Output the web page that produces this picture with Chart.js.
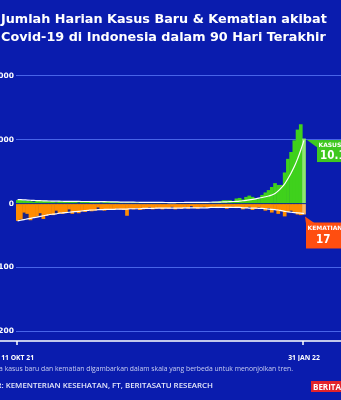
<!DOCTYPE html>
<html>
<head>
<meta charset="utf-8">
<script src="https://cdn.jsdelivr.net/npm/chart.js@4.4.0/dist/chart.umd.min.js"></script>
<style>
  html, body { margin: 0; padding: 0; background: #0a1cae; overflow: hidden; }
  #wrap { position: relative; width: 341px; height: 400px; }
  #chart { position: absolute; left: 0; top: 0; }
  .title { position: absolute; left: 1px; top: 10px; color: #fff; font: 700 12.8px 'DejaVu Sans', sans-serif; line-height: 18px; white-space: nowrap; }
  .note { position: absolute; right: 48px; top: 364px; color: #c9cff0; font: 400 6.8px 'Open Sans', sans-serif; white-space: nowrap; }
  .source { position: absolute; right: 128px; top: 380px; color: #e6e9fa; font: 600 7.9px 'Open Sans', sans-serif; white-space: nowrap; }
  .logo { position: absolute; left: 311px; top: 381px; width: 40px; height: 11px; background: #e3232b; color: #fff; font: 700 8px 'Open Sans', sans-serif; line-height: 11px; padding-left: 2px; }
</style>
</head>
<body>
<div id="wrap">
  <canvas id="chart" width="341" height="400"></canvas>
  <div class="title">Jumlah Harian Kasus Baru &amp; Kematian akibat<br>Covid-19 di Indonesia dalam 90 Hari Terakhir</div>
  <div class="note">Data kasus baru dan kematian digambarkan dalam skala yang berbeda untuk menonjolkan tren.</div>
  <div class="source">SUMBER: KEMENTERIAN KESEHATAN, FT, BERITASATU RESEARCH</div>
  <div class="logo">BERITASATU</div>
</div>
<script>
// daily data, 3 Nov 2021 - 31 Jan 2022
var cases = [
    573, 594, 502, 436, 382, 301, 415, 480, 440, 400, 385, 350, 220, 420, 400, 360, 370, 337, 249, 167,
    400, 415, 389, 400, 385, 258, 176, 300,
    357, 311, 281, 253, 237, 187, 230, 190, 241, 214, 247, 181, 135, 190, 219, 232, 173, 163, 136, 103,
    175, 224, 254, 184, 179, 92, 144, 212, 268, 173, 274,
    265, 174, 265, 299, 404, 533, 533, 529, 414, 802, 892, 646, 1054, 1256, 1054, 855, 772, 1362, 1745, 2116,
    2604, 3205, 2925, 2928, 4878, 7010, 8077, 9905, 11588, 12422, 10185
];
var casesAvg = [
    640, 620, 590, 560, 530, 500, 480, 460, 440, 420, 410, 400, 390, 380, 370, 360, 355, 350, 345, 340,
    335, 330, 330, 325, 320, 315, 310, 300,
    290, 280, 270, 260, 250, 240, 230, 225, 220, 215, 210, 205, 200, 195, 190, 190, 185, 180, 175, 170,
    170, 170, 175, 175, 180, 180, 185, 190, 195, 200, 210,
    210, 215, 225, 235, 250, 265, 285, 305, 330, 360, 400, 450, 510, 580, 660, 750, 850, 960, 1080, 1200,
    1350, 1600, 2000, 2500, 3100, 3900, 4800, 5800, 7000, 8400, 9900
];
var deaths = [
    27, 25, 14, 16, 26, 22, 20, 15, 24, 19, 17, 18, 11, 15, 16, 14, 9, 16, 13, 15,
    12, 13, 10, 12, 11, 6, 10, 11, 9, 10, 10, 8, 9, 10, 19, 8, 9, 7, 10, 9,
    8, 6, 9, 8, 7, 9, 7, 8, 5, 9, 7, 8, 6, 8, 4, 7, 8, 6, 5, 7,
    6, 5, 7, 6, 5, 8, 6, 5, 7, 6, 9, 7, 5, 10, 8, 6, 8, 11, 7, 14,
    9, 16, 12, 20, 13, 11, 13, 17, 18, 17
];
var deathsAvg = [
    27, 26, 25, 24, 23, 22, 21, 20, 19, 18, 17, 16.5, 16, 15, 14.5,
    14, 13.5, 13, 12.5, 12, 11.5, 11, 10.5, 10, 10, 9.5, 9.5, 9, 9, 9,
    9, 8.5, 8.5, 8.5, 8.5, 8, 8, 8, 8, 7.5, 7.5, 7.5, 7.5, 7, 7,
    7, 7, 7, 7, 7, 7, 7, 6.5, 6.5, 6.5, 6.5, 6.5, 6.5, 6.5, 6.5,
    6, 6, 6, 6, 6, 6, 6, 6, 6, 6, 6.5, 6.5, 7, 7, 7,
    7.5, 7.5, 8, 8.5, 9, 9.5, 10, 11, 12, 13, 13.5, 14, 14.5, 15, 15.5
];
var tickAt = [0, 89];
var tickLabels = ['11 OKT 21', '31 JAN 22'];
var yTicks = [-20000, -10000, 0, 10000, 20000];
var DEATH_SCALE = 100; // deaths drawn x100 below the zero line
var last = cases.length - 1;

function pts(arr, k) {
    return arr.map(function (v, i) { return { x: i, y: v * k }; });
}
function fmt(n) {
    return String(n).replace(/\B(?=(\d{3})+(?!\d))/g, '.');
}
// big numbers in the callouts are set a bit condensed
function narrowText(ctx, txt, x, y) {
    ctx.save();
    ctx.translate(x, y);
    ctx.scale(0.8, 1);
    ctx.fillText(txt, 0, 0);
    ctx.restore();
}

var extras = {
    id: 'extras',
    afterDatasetsDraw: function (chart) {
        var ctx = chart.ctx;
        var area = chart.chartArea;
        var xs = chart.scales.x;
        var cb = chart.getDatasetMeta(1).data[last];
        var db = chart.getDatasetMeta(2).data[last];
        ctx.save();
        // axis line runs to the left edge, plus the two tick marks
        ctx.strokeStyle = '#fff';
        ctx.lineWidth = 1.5;
        ctx.beginPath();
        ctx.moveTo(0, area.bottom);
        ctx.lineTo(area.right, area.bottom);
        tickAt.forEach(function (t) {
            var px = Math.round(xs.getPixelForValue(t)) - 1;
            ctx.moveTo(px, area.bottom);
            ctx.lineTo(px, area.bottom + 4);
        });
        ctx.stroke();

        // KASUS label
        var bx = cb.x + 13, by = cb.y + 1.5;
        ctx.fillStyle = '#3fc81f';
        ctx.beginPath();
        ctx.moveTo(cb.x + 3, by);
        ctx.lineTo(bx + 1, by);
        ctx.lineTo(bx + 1, by + 8);
        ctx.closePath();
        ctx.fill();
        ctx.fillRect(bx, by, 60, 22);
        ctx.fillStyle = '#fff';
        ctx.textBaseline = 'alphabetic';
        ctx.font = 'bold 6px "DejaVu Sans"';
        ctx.fillText('KASUS', bx + 1.5, by + 7);
        ctx.font = 'bold 13px "DejaVu Sans"';
        narrowText(ctx, fmt(cases[last]), bx + 3, by + 19);

        // KEMATIAN label
        var kx = db.x + 2, ky = db.y + 8;
        ctx.fillStyle = '#ff4e10';
        ctx.beginPath();
        ctx.moveTo(db.x + 1, db.y + 2);
        ctx.lineTo(kx + 9, ky + 1);
        ctx.lineTo(kx, ky + 1);
        ctx.closePath();
        ctx.fill();
        ctx.fillRect(kx, ky, 60, 26);
        ctx.fillStyle = '#fff';
        ctx.font = 'bold 6px "DejaVu Sans"';
        ctx.fillText('KEMATIAN', kx + 1.5, ky + 8);
        ctx.font = 'bold 13px "DejaVu Sans"';
        narrowText(ctx, String(deaths[last]), kx + 10, ky + 21);
        ctx.restore();
    }
};

var chart = new Chart(document.getElementById('chart').getContext('2d'), {
    type: 'bar',
    data: {
        datasets: [{
            // dark area under the deaths average, bars go over it
            type: 'line',
            data: pts(deathsAvg, -DEATH_SCALE),
            borderWidth: 0,
            backgroundColor: '#1a2484',
            fill: 'origin',
            pointRadius: 0,
            tension: 0.4,
            cubicInterpolationMode: 'monotone',
            order: 5
        }, {
            data: pts(cases, 1),
            backgroundColor: function (c) { return c.dataIndex === last ? '#8ee86e' : '#3fd11c'; },
            grouped: false,
            barPercentage: 1.15,
            categoryPercentage: 1,
            order: 4
        }, {
            data: pts(deaths, -DEATH_SCALE),
            backgroundColor: function (c) { return c.dataIndex === last ? '#ffb863' : '#ff8c00'; },
            grouped: false,
            barPercentage: 1.15,
            categoryPercentage: 1,
            order: 3
        }, {
            type: 'line',
            data: pts(casesAvg, 1),
            borderColor: '#fff',
            borderWidth: 1.2,
            pointRadius: 0,
            tension: 0.4,
            cubicInterpolationMode: 'monotone',
            fill: false,
            order: 1
        }, {
            type: 'line',
            data: pts(deathsAvg, -DEATH_SCALE),
            borderColor: '#fff',
            borderWidth: 1.2,
            pointRadius: 0,
            tension: 0.4,
            cubicInterpolationMode: 'monotone',
            fill: false,
            order: 1
        }]
    },
    options: {
        responsive: false,
        animation: false,
        layout: { padding: { top: 72, right: 0, bottom: 39, left: 0 } },
        plugins: { legend: { display: false }, tooltip: { enabled: false } },
        scales: {
            x: {
                type: 'linear',
                min: -0.5,
                max: 100.5,
                offset: false,
                afterBuildTicks: function (s) { s.ticks = tickAt.map(function (v) { return { value: v }; }); },
                afterFit: function (s) { s.height = 20; s.paddingLeft = 0; s.paddingRight = 0; },
                grid: { display: false },
                border: { display: false },
                ticks: {
                    color: '#fff',
                    font: { family: 'Open Sans', weight: 'bold', size: 6.8 },
                    padding: 5,
                    maxRotation: 0,
                    autoSkip: false,
                    callback: function (v, i) { return tickLabels[i]; }
                }
            },
            y: {
                min: -21500,
                max: 20600,
                afterBuildTicks: function (s) { s.ticks = yTicks.map(function (v) { return { value: v }; }); },
                afterFit: function (s) { s.width = 16; s.paddingTop = 0; s.paddingBottom = 0; },
                grid: {
                    color: function (c) { return c.tick && c.tick.value === 0 ? 'rgba(0,0,0,0)' : '#4864e8'; },
                    lineWidth: 1,
                    drawTicks: false
                },
                border: { display: false },
                ticks: {
                    color: '#fff',
                    font: { family: 'DejaVu Sans', weight: 'bold', size: 7.5 },
                    padding: 2,
                    callback: function (v) { return v < 0 ? String(-v / DEATH_SCALE) : fmt(v); }
                }
            }
        }
    },
    plugins: [extras]
});
</script>
</body>
</html>
